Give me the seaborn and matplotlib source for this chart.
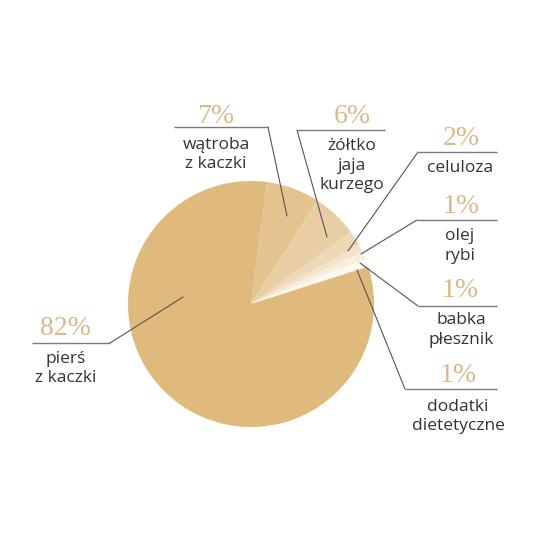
import matplotlib
matplotlib.use("Agg")
import matplotlib.pyplot as plt
import seaborn as sns

# ===============================
# Data
# ===============================
shares = [7, 6, 2, 1, 1, 1, 82]
pct_labels = ["7%", "6%", "2%", "1%", "1%", "1%", "82%"]
names = [
    ["wątroba", "z kaczki"],
    ["żółtko", "jaja", "kurzego"],
    ["celuloza"],
    ["olej", "rybi"],
    ["babka", "płesznik"],
    ["dodatki", "dietetyczne"],
    ["pierś", "z kaczki"],
]

# ===============================
# Layout (pixel coords, y from top)
# ===============================
W = H = 536
# pct x, pct baseline, underline x0, x1, y, leader anchor (x, y), leader side, name x, first name baseline
layout = [
    (216, 123, 174, 268, 127, (287, 216), "right", 216, 149),
    (352, 123, 297, 385, 130, (327, 237), "left", 352, 150),
    (461, 145, 418, 497, 152, (348, 251), "left", 460, 172),
    (461, 213, 417, 497, 220, (361, 254), "left", 460, 240),
    (460, 297, 418, 497, 306, (360, 263), "left", 461, 324),
    (458, 382, 405, 497, 389, (357, 270), "left", 458, 411),
    (65, 335, 32, 110, 343, (183, 297), "right", 66, 363),
]
line_gap = 19.5


def py(y):
    return H - y


sns.set_theme(style="white")
plt.rcParams["font.family"] = ["Open Sans", "DejaVu Sans"]

palette = sns.blend_palette(["#E0B97C", "#FCF8F1"], 7)
colors = list(palette[1:]) + [palette[0]]

fig = plt.figure(figsize=(W / 100, H / 100), dpi=100)
ax = fig.add_axes([0, 0, 1, 1])

ax.pie(shares, colors=colors, startangle=82.5, counterclock=False,
       center=(251, py(304)), radius=123, wedgeprops=dict(linewidth=0))
ax.set_xlim(0, W)
ax.set_ylim(0, H)
ax.set_aspect("equal")
ax.axis("off")

for pct, lines, lay in zip(pct_labels, names, layout):
    px, pb, ux0, ux1, uy, anchor, side, nx, nb = lay
    ax.text(px, py(pb), pct, ha="center", va="baseline", fontsize=20,
            family=["Liberation Serif", "DejaVu Serif"], color="#D8B98B")
    ax.plot([ux0, ux1], [py(uy), py(uy)], color="#7a7a7a", lw=1.0,
            solid_capstyle="butt")
    lx = ux1 if side == "right" else ux0
    ax.plot([anchor[0], lx], [py(anchor[1]), py(uy)], color="#555555", lw=0.8)
    for i, name in enumerate(lines):
        ax.text(nx, py(nb + i * line_gap), name, ha="center", va="baseline",
                fontsize=12.5, color="#333333")

fig.savefig("out.png", dpi=100, facecolor="white")
